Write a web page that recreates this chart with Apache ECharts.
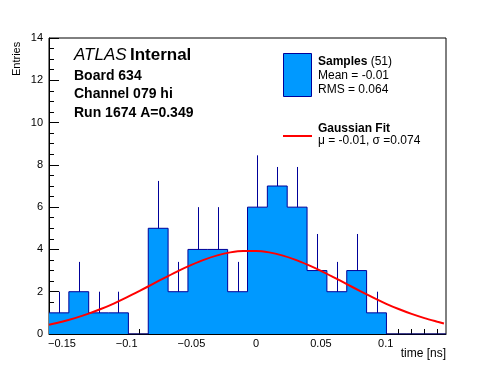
<!DOCTYPE html>
<html>
<head>
<meta charset="utf-8">
<script src="https://cdn.jsdelivr.net/npm/echarts@6/dist/echarts.min.js"></script>
<style>html,body{margin:0;padding:0;background:#fff;}#c{width:496px;height:372px;}</style>
</head>
<body>
<div id="c"></div>
<script>
// ---- data ----
const binCounts = [1, 2, 1, 1, 0, 5, 2, 4, 4, 2, 6, 7, 6, 3, 2, 3, 1, 0, 0, 0];
const binErrUp  = [1, 1.41, 1, 1, 0, 2.24, 1.41, 2, 2, 1.41, 2.45, 0.9, 1.9, 1.73, 1.41, 1.73, 1, 0, 0, 0];
const xMin = -0.16;
const xMax = 0.1466;
const fitX = [-0.16, -0.15, -0.14, -0.13, -0.12, -0.11, -0.10, -0.09, -0.08, -0.07, -0.06, -0.05, -0.04, -0.03, -0.02, -0.01,
              0.00, 0.01, 0.02, 0.03, 0.04, 0.05, 0.06, 0.07, 0.08, 0.09, 0.10, 0.11, 0.12, 0.13, 0.14, 0.145];
const fitY = [0.44, 0.58, 0.75, 0.95, 1.18, 1.44, 1.73, 2.04, 2.36, 2.68, 2.99, 3.27, 3.52, 3.72, 3.86, 3.93,
              3.93, 3.86, 3.72, 3.52, 3.27, 2.99, 2.68, 2.36, 2.04, 1.73, 1.44, 1.18, 0.95, 0.75, 0.58, 0.50];
const xTickLabels = [-0.15, -0.1, -0.05, 0, 0.05, 0.1];
const xMinorTicks = [-0.16, -0.15, -0.14, -0.13, -0.12, -0.11, -0.10, -0.09, -0.08, -0.07, -0.06, -0.05, -0.04, -0.03, -0.02, -0.01,
                     0.00, 0.01, 0.02, 0.03, 0.04, 0.05, 0.06, 0.07, 0.08, 0.09, 0.10, 0.11, 0.12, 0.13, 0.14];
const yTickLabels = [0, 2, 4, 6, 8, 10, 12, 14];
const yMinorTicks = [0.5, 1, 1.5, 2.5, 3, 3.5, 4.5, 5, 5.5, 6.5, 7, 7.5, 8.5, 9, 9.5, 10.5, 11, 11.5, 12.5, 13, 13.5];

// ---- build series data ----
const nBins = binCounts.length;
const binW = (xMax - xMin) / nBins;
const stepData = [];
for (let i = 0; i < nBins; i++) stepData.push([xMin + i * binW, binCounts[i]]);
stepData.push([xMax, 0]);
const errData = [];
for (let i = 0; i < nBins; i++) errData.push([xMin + (i + 0.5) * binW, binCounts[i], binErrUp[i]]);
const fitData = fitX.map((x, i) => [x, fitY[i]]);

const FONT = 'Liberation Sans, Arial, Helvetica, sans-serif';
const fmt = v => (v < 0 ? '\u2212' + String(Math.abs(v)) : String(v));

const chart = echarts.init(document.getElementById('c'), null, {renderer: 'canvas'});
chart.setOption({
  animation: false,
  backgroundColor: '#ffffff',
  grid: {left: 49, right: 50, top: 38, bottom: 38, show: true, borderColor: '#000', borderWidth: 1, backgroundColor: 'transparent'},
  xAxis: [
    {
      type: 'value', min: xMin, max: xMax, position: 'bottom',
      axisLine: {show: true, onZero: false, lineStyle: {color: '#000', width: 1}},
      axisTick: {show: true, inside: true, length: 10, customValues: xTickLabels, lineStyle: {color: '#000'}},
      axisLabel: {show: true, customValues: xTickLabels, formatter: fmt, margin: 4, color: '#000', fontSize: 11, fontFamily: FONT},
      splitLine: {show: false}
    },
    {
      type: 'value', min: xMin, max: xMax, position: 'bottom', gridIndex: 0,
      axisLine: {show: false, onZero: false},
      axisTick: {show: true, inside: true, length: 5, customValues: xMinorTicks, lineStyle: {color: '#000'}},
      axisLabel: {show: false},
      splitLine: {show: false}
    }
  ],
  yAxis: [
    {
      type: 'value', min: 0, max: 14, interval: 2, position: 'left',
      axisLine: {show: true, onZero: false, lineStyle: {color: '#000', width: 1}},
      axisTick: {show: true, inside: true, length: 10, lineStyle: {color: '#000'}},
      axisLabel: {show: true, margin: 6, color: '#000', fontSize: 11, fontFamily: FONT, customValues: yTickLabels, formatter: v => String(v)},
      splitLine: {show: false}
    },
    {
      type: 'value', min: 0, max: 14, position: 'left', gridIndex: 0,
      axisLine: {show: false, onZero: false},
      axisTick: {show: true, inside: true, length: 5, customValues: yMinorTicks, lineStyle: {color: '#000'}},
      axisLabel: {show: false},
      splitLine: {show: false}
    }
  ],
  series: [
    {
      type: 'line', name: 'Samples', data: stepData, step: 'end', xAxisIndex: 0, yAxisIndex: 0,
      showSymbol: false, symbol: 'none', z: 2,
      lineStyle: {color: '#000099', width: 1},
      areaStyle: {color: '#0099ff', opacity: 1}
    },
    {
      type: 'custom', name: 'errors', data: errData, xAxisIndex: 0, yAxisIndex: 0, z: 3, clip: true,
      renderItem: function (params, api) {
        const x = api.value(0), v = api.value(1), e = api.value(2);
        if (!(e > 0)) return null;
        const p0 = api.coord([x, v]);
        const p1 = api.coord([x, v + e]);
        const px = Math.round(p0[0]) + 0.5;
        return {type: 'line', shape: {x1: px, y1: p0[1], x2: px, y2: p1[1]}, style: {stroke: '#000099', lineWidth: 1}};
      }
    },
    {
      type: 'line', name: 'Gaussian Fit', data: fitData, xAxisIndex: 0, yAxisIndex: 0, smooth: 0.3,
      showSymbol: false, symbol: 'none', z: 4,
      lineStyle: {color: '#ff0000', width: 2}
    }
  ],
  graphic: [
    {type: 'text', left: 74, top: 47, style: {
      text: '{i|ATLAS} {b|Internal}', fill: '#000',
      rich: {i: {fontFamily: FONT, fontStyle: 'italic', fontSize: 17, fill: '#000'}, b: {fontFamily: FONT, fontWeight: 'bold', fontSize: 17, fill: '#000'}}
    }},
    {type: 'text', left: 74, top: 69, style: {text: 'Board 634', fontFamily: FONT, fontWeight: 'bold', fontSize: 14, fill: '#000'}},
    {type: 'text', left: 74, top: 87, style: {text: 'Channel 079 hi', fontFamily: FONT, fontWeight: 'bold', fontSize: 14, fill: '#000'}},
    {type: 'text', left: 74, top: 106, style: {text: 'Run 1674 A=0.349', fontFamily: FONT, fontWeight: 'bold', fontSize: 14, fill: '#000'}},
    // legend
    {type: 'rect', shape: {x: 283.5, y: 53.5, width: 28, height: 43}, style: {fill: '#0099ff', stroke: '#000099', lineWidth: 1}},
    {type: 'text', left: 318, top: 56, style: {
      text: '{b|Samples} {n|(51)}',
      rich: {b: {fontFamily: FONT, fontWeight: 'bold', fontSize: 12, fill: '#000'}, n: {fontFamily: FONT, fontSize: 12, fill: '#000'}}
    }},
    {type: 'text', left: 318, top: 70, style: {text: 'Mean = -0.01', fontFamily: FONT, fontSize: 12, fill: '#000'}},
    {type: 'text', left: 318, top: 84, style: {text: 'RMS = 0.064', fontFamily: FONT, fontSize: 12, fill: '#000'}},
    {type: 'line', shape: {x1: 283, y1: 136, x2: 312, y2: 136}, style: {stroke: '#ff0000', lineWidth: 2}},
    {type: 'text', left: 318, top: 123, style: {text: 'Gaussian Fit', fontFamily: FONT, fontWeight: 'bold', fontSize: 12, fill: '#000'}},
    {type: 'text', left: 318, top: 135, style: {text: '\u03bc = -0.01, \u03c3 =0.074', fontFamily: FONT, fontSize: 12, fill: '#000'}},
    // axis titles
    {type: 'text', x: 11, y: 76, rotation: Math.PI / 2, style: {text: 'Entries', fontFamily: FONT, fontSize: 11, fill: '#000', align: 'left', verticalAlign: 'top'}},
    {type: 'text', right: 50, top: 348, style: {text: 'time [ns]', fontFamily: FONT, fontSize: 12, fill: '#000'}}
  ]
});
</script>
</body>
</html>
